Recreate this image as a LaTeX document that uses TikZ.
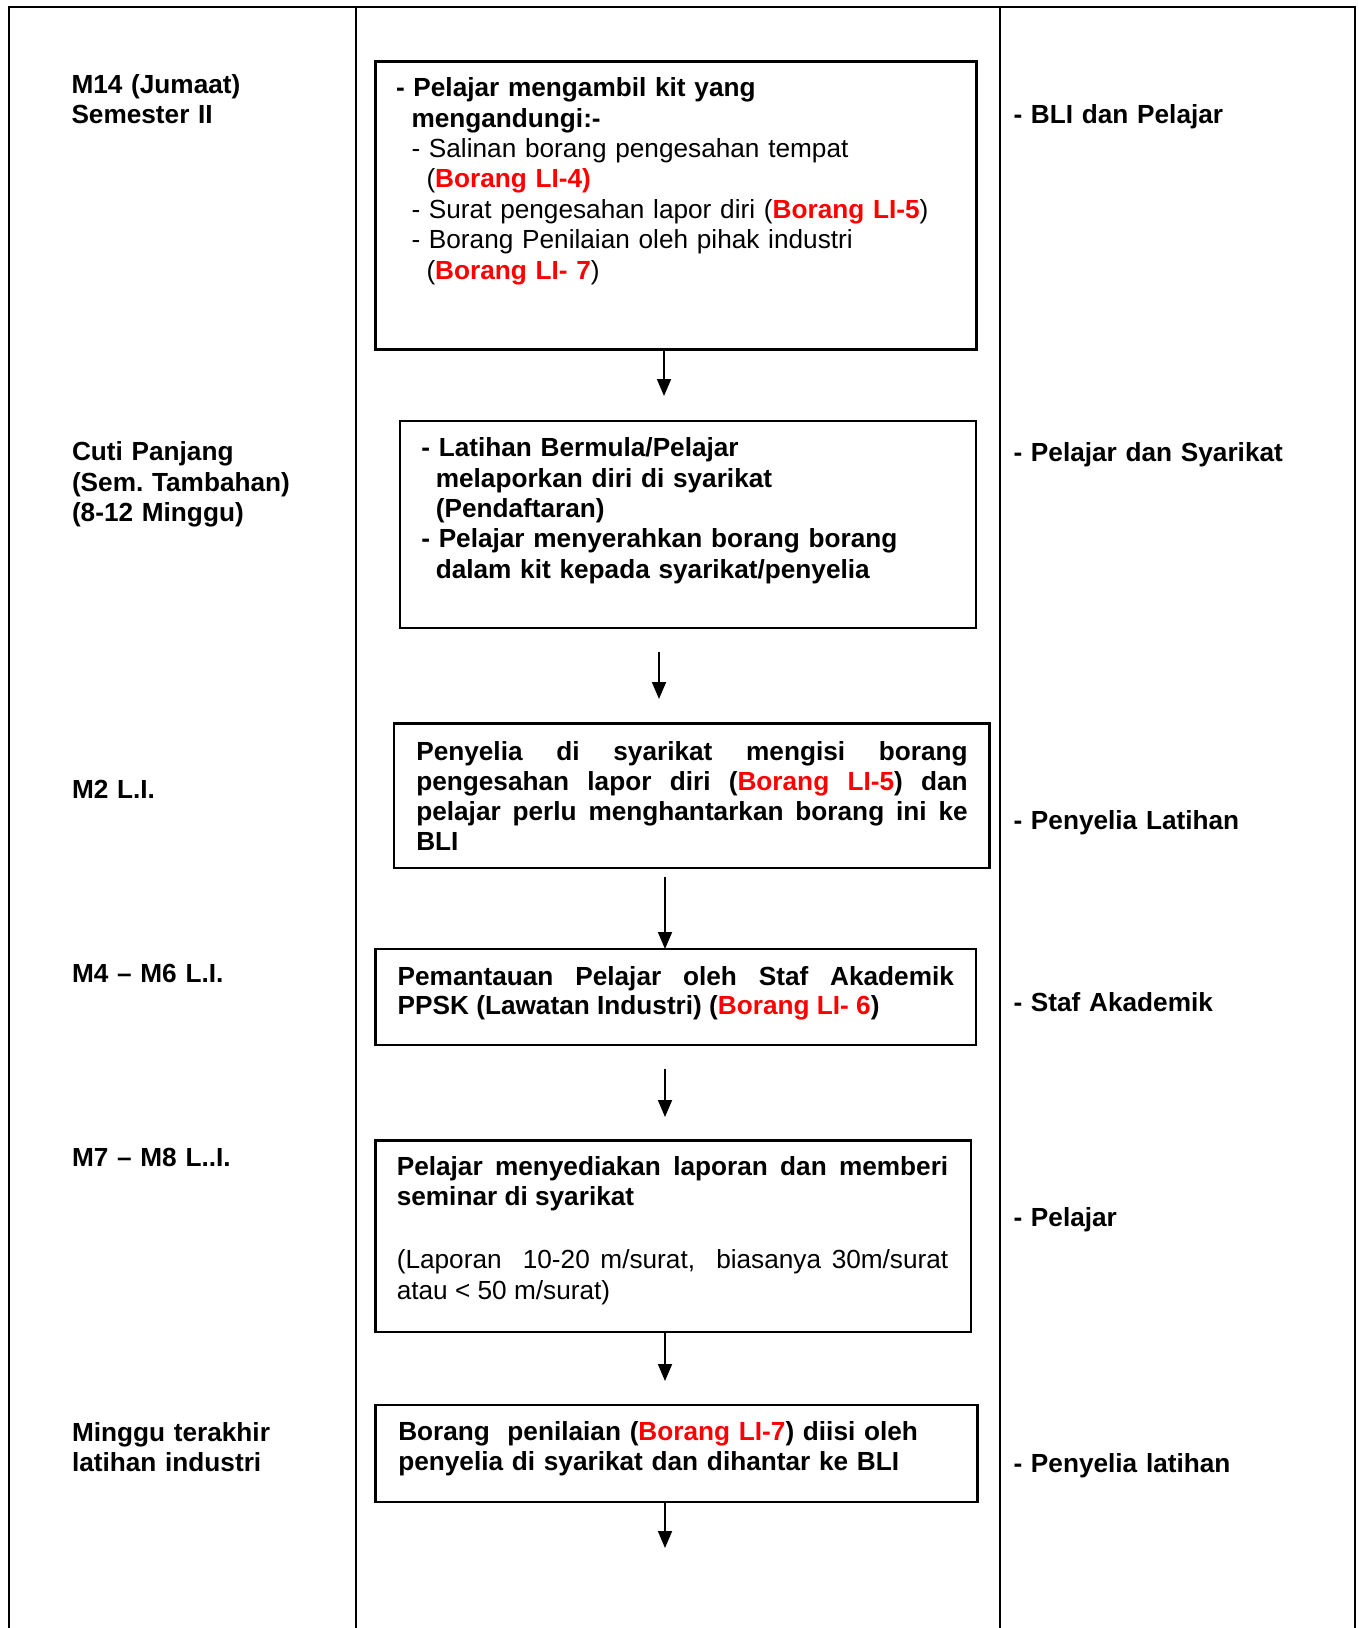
\documentclass[tikz,border=0pt]{standalone}
\usepackage{fontspec}
\setmainfont{Liberation Sans}
\usetikzlibrary{arrows.meta}
\definecolor{lired}{RGB}{255,0,0}
\newcommand\rb[1]{\textcolor{lired}{\bfseries #1}}
\tolerance=10000
\hbadness=10000
\frenchspacing
\begin{document}
\begin{tikzpicture}[x=1pt,y=-1pt,
  tbl/.style={line width=2pt},
  box/.style={draw, line width=2.4pt, rectangle, inner sep=0pt, outer sep=0pt, anchor=north west},
  txt/.style={anchor=base west, inner sep=0pt, outer sep=0pt, font=\fontsize{26.2}{30.4}\selectfont, align=left},
  jtxt/.style={txt, align=justify},
  arr/.style={line width=1.8pt, -{Triangle[width=14pt,length=17pt]}}]
\useasboundingbox (0,0) rectangle (1358,1628);
% table frame
\draw[tbl] (8.5,1628) -- (8.5,6.7) -- (1355,6.7) -- (1355,1628);
\draw[tbl] (355.7,6.7) -- (355.7,1628);
\draw[tbl] (999.5,6.7) -- (999.5,1628);
% boxes
\node[box, minimum width=601pt, minimum height=288pt] (b1) at (375.5,61.5) {};
\node[box, minimum width=576pt, minimum height=207pt] (b2) at (400,421) {};
\node[box, minimum width=595.5pt, minimum height=144.5pt] (b3) at (394,723.5) {};
\node[box, minimum width=600.5pt, minimum height=96pt] (b4) at (375.5,949) {};
\node[box, minimum width=595.5pt, minimum height=191.5pt] (b5) at (375.5,1140.5) {};
\node[box, minimum width=602pt, minimum height=97pt] (b6) at (375.5,1405) {};
% box texts
\node[txt, text width=575pt] (t1) at (396,96.7) {\textbf{- Pelajar mengambil kit yang}\\
\hspace*{15.5pt}\textbf{mengandungi:-}\\
\hspace*{15.5pt}- Salinan borang pengesahan tempat\\
\hspace*{30.5pt}(\rb{Borang LI-4)}\\
\hspace*{15.5pt}- Surat pengesahan lapor diri (\rb{Borang LI-5})\\
\hspace*{15.5pt}- Borang Penilaian oleh pihak industri\\
\hspace*{30.5pt}(\rb{Borang LI- 7})};
\node[txt, text width=545pt, font=\fontsize{26.2}{30.4}\selectfont\bfseries] (t2) at (421.3,456.7) {- Latihan Bermula/Pelajar\\
\hspace*{14.5pt}melaporkan diri di syarikat\\
\hspace*{14.5pt}(Pendaftaran)\\
- Pelajar menyerahkan borang borang\\
\hspace*{14.5pt}dalam kit kepada syarikat/penyelia};
\node[jtxt, text width=551.4pt, font=\fontsize{26.2}{30.3}\selectfont\bfseries] (t3) at (416.3,760) {Penyelia di syarikat mengisi borang\linebreak pengesahan lapor diri (\rb{Borang LI-5}) dan\linebreak pelajar perlu menghantarkan borang ini ke\linebreak BLI};
\node[jtxt, text width=556.3pt, font=\fontsize{26.2}{29.5}\selectfont\bfseries] (t4) at (397.7,985) {Pemantauan Pelajar oleh Staf Akademik\linebreak PPSK (Lawatan Industri) (\rb{Borang LI- 6})};
\node[jtxt, text width=551.5pt] (t5) at (396.8,1175) {\textbf{Pelajar menyediakan laporan dan memberi\linebreak seminar di syarikat}\par\vspace{32.9pt}(Laporan\ \ 10-20 m/surat,\ \ biasanya 30m/surat\linebreak atau < 50 m/surat)};
\node[txt, text width=570pt, font=\fontsize{26.2}{30}\selectfont\bfseries] (t6) at (398.3,1440) {Borang\ \ penilaian (\rb{Borang LI-7}) diisi oleh\\
penyelia di syarikat dan dihantar ke BLI};
% left column
\node[txt, text width=270pt, font=\fontsize{26.2}{30}\selectfont\bfseries] (l1) at (71.5,93.3) {M14 (Jumaat)\\Semester II};
\node[txt, text width=270pt, font=\fontsize{26.2}{30.5}\selectfont\bfseries] (l2) at (72,460.7) {Cuti Panjang\\(Sem. Tambahan)\\(8-12 Minggu)};
\node[txt, text width=270pt, font=\fontsize{26.2}{30}\selectfont\bfseries] (l3) at (72,798.3) {M2 L.I.};
\node[txt, text width=270pt, font=\fontsize{26.2}{30}\selectfont\bfseries] (l4) at (72,982.7) {M4 – M6 L.I.};
\node[txt, text width=270pt, font=\fontsize{26.2}{30}\selectfont\bfseries] (l5) at (72,1166) {M7 – M8 L..I.};
\node[txt, text width=270pt, font=\fontsize{26.2}{30}\selectfont\bfseries] (l6) at (72,1441.7) {Minggu terakhir\\latihan industri};
% right column
\node[txt, text width=330pt, font=\fontsize{26.2}{30}\selectfont\bfseries] (r1) at (1013.5,123.3) {- BLI dan Pelajar};
\node[txt, text width=330pt, font=\fontsize{26.2}{30}\selectfont\bfseries] (r2) at (1013.5,461.7) {- Pelajar dan Syarikat};
\node[txt, text width=330pt, font=\fontsize{26.2}{30}\selectfont\bfseries] (r3) at (1013.5,829.3) {- Penyelia Latihan};
\node[txt, text width=330pt, font=\fontsize{26.2}{30}\selectfont\bfseries] (r4) at (1013.5,1011.7) {- Staf Akademik};
\node[txt, text width=330pt, font=\fontsize{26.2}{30}\selectfont\bfseries] (r5) at (1013.5,1226.7) {- Pelajar};
\node[txt, text width=330pt, font=\fontsize{26.2}{30}\selectfont\bfseries] (r6) at (1013.5,1472.7) {- Penyelia latihan};
% arrows
\coordinate (e1) at (664,396);
\draw[arr] (e1 |- b1.south) -- (e1);
\coordinate (s2) at (659,652);
\coordinate (e2) at (659,699);
\draw[arr] (s2) -- (e2);
\coordinate (s3) at (665,877);
\draw[arr] (s3) -- (s3 |- b4.north);
\coordinate (s4) at (665,1069);
\coordinate (e4) at (665,1117);
\draw[arr] (s4) -- (e4);
\coordinate (e5) at (665,1381);
\draw[arr] (e5 |- b5.south) -- (e5);
\coordinate (e6) at (665,1548);
\draw[arr] (e6 |- b6.south) -- (e6);
\end{tikzpicture}
\end{document}
